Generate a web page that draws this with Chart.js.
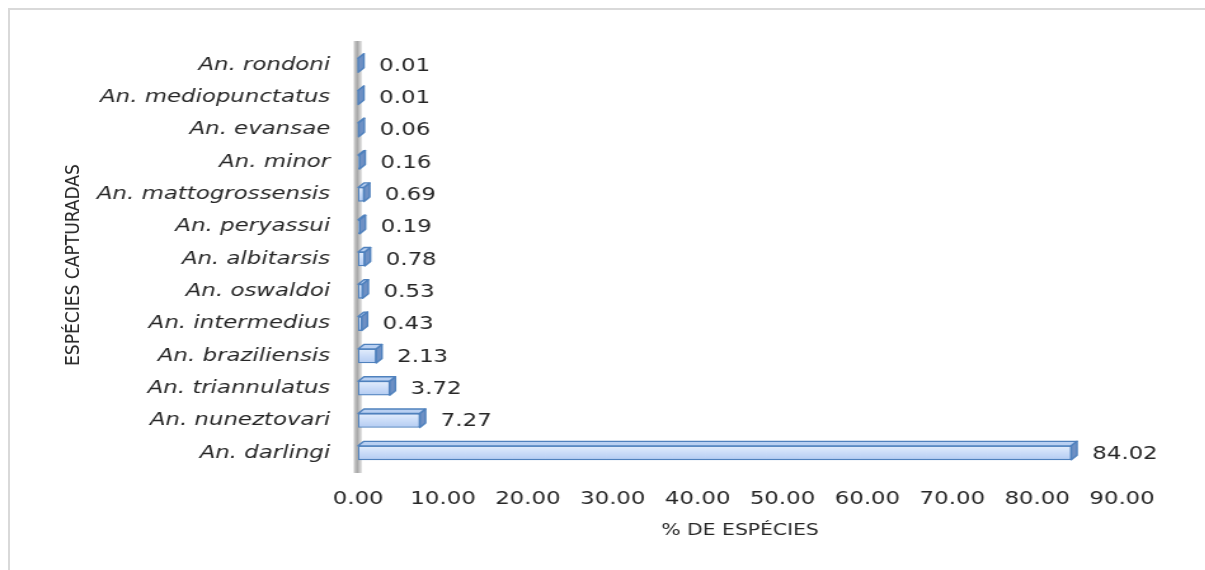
<!DOCTYPE html>
<html><head><meta charset="utf-8">
<script src="https://cdn.jsdelivr.net/npm/chart.js@4.4.0/dist/chart.umd.min.js"></script>
<style>
html,body{margin:0;padding:0;background:#fff;overflow:hidden;width:1205px;height:570px}
#frame{position:absolute;left:8px;top:8px;width:1197px;height:562px;border-left:2px solid #d9d9d9;border-top:2px solid #d9d9d9;}
#wrap{position:absolute;left:0;top:0;width:949px;height:570px;transform:scaleX(1.27);transform-origin:0 0;}
#ytitle{position:absolute;left:72px;top:265px;transform:translate(-50%,-50%) rotate(-90deg);white-space:nowrap;font-family:'Liberation Sans Narrow','DejaVu Sans Condensed',sans-serif;font-size:19px;color:#262626;}
</style></head>
<body><div id="frame"></div>
<div id="wrap"><canvas id="c" width="949" height="570"></canvas></div>
<div id="ytitle">ESPÉCIES CAPTURADAS</div>
<script>
const categories = ['An. rondoni','An. mediopunctatus','An. evansae','An. minor','An. mattogrossensis','An. peryassui','An. albitarsis','An. oswaldoi','An. intermedius','An. braziliensis','An. triannulatus','An. nuneztovari','An. darlingi'];
const percentValues = [0.01,0.01,0.06,0.16,0.69,0.19,0.78,0.53,0.43,2.13,3.72,7.27,84.02];
const xTickValues = [0,10,20,30,40,50,60,70,80,90];
const xTitle = '% DE ESPÉCIES';

const DEPTH_X = 4.5, DEPTH_Y = 4.5;
const threeD = {
  id:'threeD',
  beforeDatasetsDraw(chart){
    const ctx = chart.ctx, a = chart.chartArea, L = a.left;
    const g = ctx.createLinearGradient(L-3.5,0,L+3,0);
    g.addColorStop(0,'#d0d0d0'); g.addColorStop(0.45,'#a8a8a8'); g.addColorStop(1,'#e6e6e6');
    ctx.save(); ctx.fillStyle = g; ctx.fillRect(L-3.5, a.top-8, 6.5, a.bottom - a.top + 12); ctx.restore();
  },
  afterDatasetsDraw(chart){
    const ctx = chart.ctx;
    const meta = chart.getDatasetMeta(0);
    ctx.save();
    meta.data.forEach((el, i) => {
      const x = el.x, base = el.base, h = el.height, top = el.y - h/2, bot = el.y + h/2;
      const fg = ctx.createLinearGradient(0, top, 0, bot);
      fg.addColorStop(0,'#e4eefc'); fg.addColorStop(0.5,'#cadcf8'); fg.addColorStop(1,'#b4ccf2');
      if (x - base > 2) { ctx.fillStyle = fg; ctx.fillRect(base+1, top+1, x-base-2, h-2); }
      ctx.lineWidth = 1.4; ctx.strokeStyle = '#4f81bd'; ctx.lineJoin = 'round';
      // top face
      ctx.beginPath();
      ctx.moveTo(base, top); ctx.lineTo(x, top); ctx.lineTo(x+DEPTH_X, top-DEPTH_Y); ctx.lineTo(base+DEPTH_X, top-DEPTH_Y); ctx.closePath();
      ctx.fillStyle = '#b9d0f2'; ctx.fill(); ctx.stroke();
      // side face
      ctx.beginPath();
      ctx.moveTo(x, top); ctx.lineTo(x+DEPTH_X, top-DEPTH_Y); ctx.lineTo(x+DEPTH_X, bot-DEPTH_Y); ctx.lineTo(x, bot); ctx.closePath();
      ctx.fillStyle = '#6e90c4'; ctx.fill(); ctx.stroke();
      ctx.fillStyle = '#262626';
      ctx.font = '18px "DejaVu Sans"';
      ctx.textBaseline = 'middle'; ctx.textAlign = 'left';
      ctx.fillText(percentValues[i].toFixed(2), x + 16.5, el.y + 1);
    });
    ctx.restore();
  }
};

new Chart(document.getElementById('c'), {
  type:'bar',
  data:{labels:categories, datasets:[{data:percentValues,
    backgroundColor:'#c9dcf7',
    borderColor:'#4f81bd', borderWidth:1.6, borderSkipped:false, barThickness:14}]},
  plugins:[threeD],
  options:{
    indexAxis:'y', responsive:false, animation:false, devicePixelRatio:1,
    layout:{padding:{top:49,left:0,right:65.5,bottom:0}},
    plugins:{legend:{display:false}, tooltip:{enabled:false}},
    scales:{
      x:{min:0,max:90, grid:{display:false,drawTicks:false}, border:{display:false},
        afterBuildTicks:(s)=>{ s.ticks = xTickValues.map(v=>({value:v})); },
        afterFit:(s)=>{ s.height = 101; },
        ticks:{padding:20, color:'#262626', font:{family:'DejaVu Sans', size:18}, callback:(v)=>Number(v).toFixed(2), maxRotation:0, autoSkip:false},
        title:{display:true, text:xTitle, color:'#262626', font:{family:'DejaVu Sans', size:16}, padding:{top:0,bottom:29.4}}
      },
      y:{grid:{display:false,drawTicks:false}, border:{display:false},
        afterFit:(s)=>{ s.width = 282; },
        ticks:{padding:22, color:'#262626', font:{family:'DejaVu Sans', size:18, style:'italic'}, autoSkip:false}
      }
    }
  }
});
</script>
</body></html>
